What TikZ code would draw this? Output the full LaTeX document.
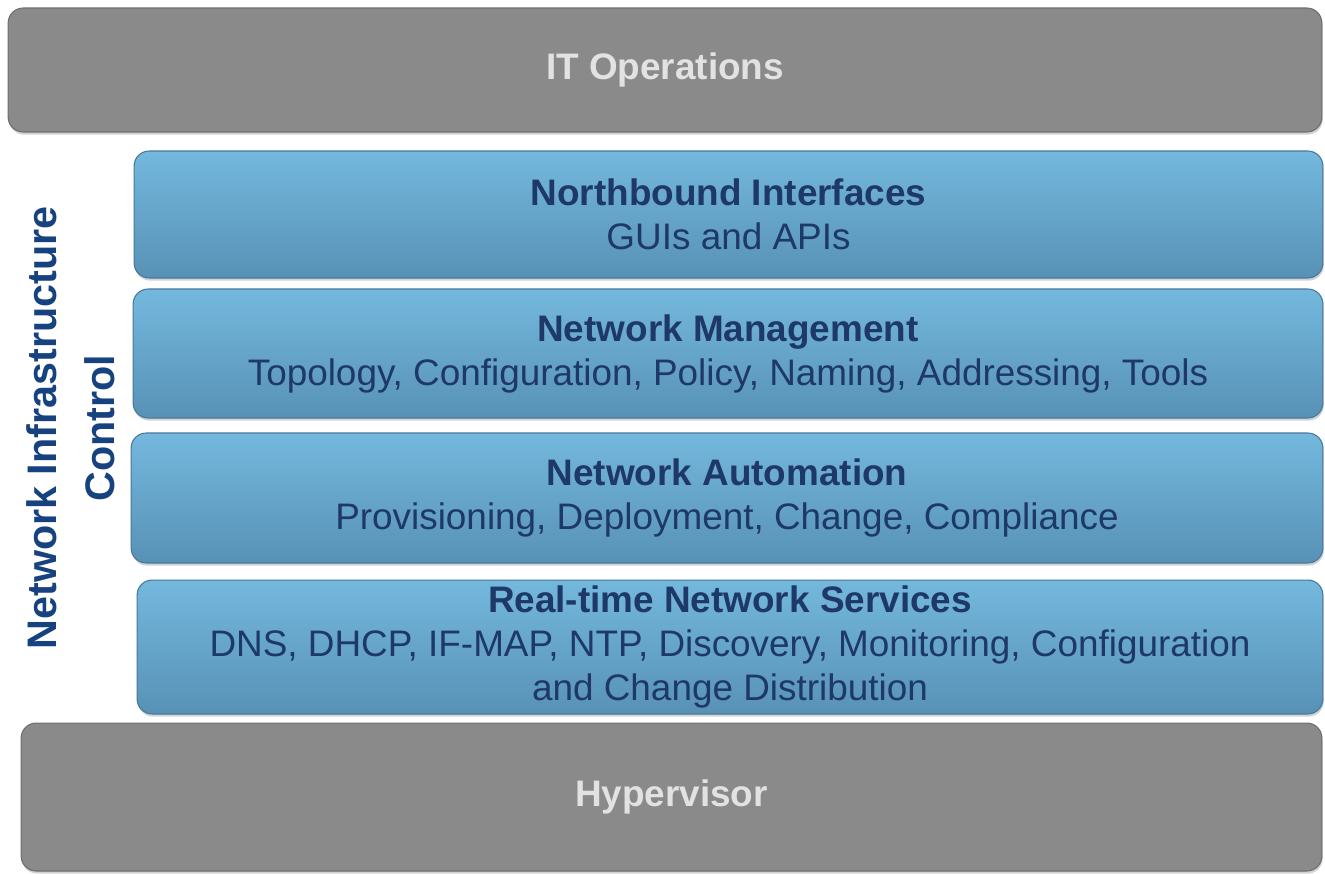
\documentclass[tikz,border=0pt]{standalone}
\usepackage{fontspec}
\setmainfont{Liberation Sans}
\usepackage{tikz}
\usetikzlibrary{positioning, shadows}
\definecolor{opgray}    {RGB}{138, 138, 138}
\definecolor{opedge}    {RGB}{110, 110, 110}
\definecolor{optext}    {RGB}{226, 226, 226}
\definecolor{laytop}    {RGB}{116, 184, 222}
\definecolor{laybot}    {RGB}{ 88, 145, 182}
\definecolor{layedge}   {RGB}{ 70, 120, 155}
\definecolor{laytext}   {RGB}{ 30,  56, 104}
\definecolor{sidetext}  {RGB}{ 22,  66, 128}

\tikzset{
	opbox/.style={draw=opedge, fill=opgray, rounded corners=0.3cm, line width=0.6pt,
		drop shadow={opacity=0.35, shadow xshift=0.5pt, shadow yshift=-1.5pt},
		text=optext, font=\fontsize{21}{25}\selectfont\bfseries},
	layer/.style={draw=layedge, top color=laytop, bottom color=laybot, rounded corners=0.3cm,
		line width=0.6pt, drop shadow={opacity=0.35, shadow xshift=0.5pt, shadow yshift=-1.5pt},
		text=laytext, align=center, font=\fontsize{21}{25}\selectfont},
}

\begin{document}
\begin{tikzpicture}[x=0.02cm, y=-0.02cm]
	\useasboundingbox (0,0) rectangle (1325,873);
	% outer layers
	\node[opbox, minimum width=26.28cm, minimum height=2.48cm] (itops) at (665,70) {IT Operations};
	\node[opbox, minimum width=26.02cm, minimum height=2.96cm] (hyper) at (671.5,797) {Hypervisor};
	% control layers
	\node[layer, minimum width=23.78cm, minimum height=2.54cm] (nbi) at (728.5,214.5)
		{\textbf{Northbound Interfaces}\\GUIs and APIs};
	\node[layer, minimum width=23.8cm, minimum height=2.58cm] (mgmt) at (728,353.5)
		{\textbf{Network Management}\\Topology,\ Configuration,\ Policy,\ Naming,\ Addressing,\ Tools};
	\node[layer, minimum width=23.84cm, minimum height=2.6cm] (auto) at (727,498)
		{\textbf{Network Automation}\\Provisioning,\ Deployment,\ Change,\ Compliance};
	\node[layer, minimum width=23.72cm, minimum height=2.6cm] (rtns) at (730,647)
		{\textbf{Real-time Network Services}\\DNS, DHCP, IF-MAP, NTP, Discovery, Monitoring, Configuration\\and Change Distribution};
	% side label
	\node[rotate=90, align=center, text=sidetext, font=\fontsize{23.5}{33}\selectfont\bfseries]
		(ctrl) at (71,428) {Network Infrastructure\\Control};
\end{tikzpicture}
\end{document}
